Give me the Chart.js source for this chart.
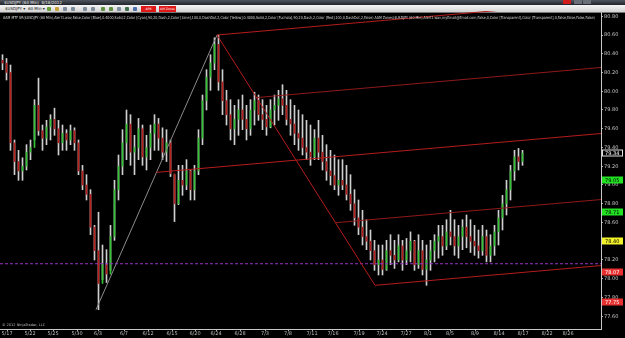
<!DOCTYPE html>
<html>
<head>
<meta charset="utf-8">
<script src="https://cdn.jsdelivr.net/npm/chart.js@4.4.0/dist/chart.umd.min.js"></script>
<style>
body { margin:0; background:#000; width:625px; height:338px; overflow:hidden; position:relative; font-family:'DejaVu Sans', sans-serif; }
#grafico { position:absolute; left:0; top:0; }
.barraTitulo { position:absolute; left:0; top:0; width:625px; height:5px; background:linear-gradient(#50555f,#202329); color:#e8e8e8; font-size:4px; line-height:5px; }
.barraTitulo span { position:absolute; left:4px; top:0; }
.botaoJanela { position:absolute; top:0; height:4px; width:8px; background:#6a6f78; }
.barraFerramentas { position:absolute; left:0; top:5px; width:625px; height:8px; background:linear-gradient(#f6f6f6,#d2d2d2); border-bottom:1px solid #777; box-sizing:border-box; font-size:4px; line-height:7px; color:#222; }
.item { position:absolute; top:0; }
.icone { position:absolute; top:2px; width:4px; height:4px; background:#7d8d9d; border-radius:1px; }
.botaoVermelho { position:absolute; top:1px; height:6px; background:#e01818; color:#fff; font-size:3px; line-height:6px; text-align:center; }
#linhaIndicador { position:absolute; left:3px; top:15px; font-size:4px; color:#d8d8d8; white-space:nowrap; transform-origin:0 0; }
#copyright { position:absolute; left:2px; top:323px; font-size:3.5px; color:#bbb; white-space:nowrap; }
</style>
</head>
<body>
<div class="barraTitulo"><span>$USDJPY (60 Min)&nbsp;&nbsp;8/18/2012</span>
  <div class="botaoJanela" style="left:574px"></div>
  <div class="botaoJanela" style="left:583px"></div>
  <div class="botaoJanela" style="left:563px;background:#d21c1c"></div>
</div>
<div class="barraFerramentas">
  <span class="item" style="left:5px">$USDJPY ▾</span>
  <span class="item" style="left:28px">60 Min ▾</span>
  <div class="icone" style="left:47px;background:#6a9c3a"></div>
  <div class="icone" style="left:55px;background:#c9a23a"></div>
  <div class="icone" style="left:63px"></div>
  <div class="icone" style="left:71px"></div>
  <div class="icone" style="left:83px"></div>
  <div class="icone" style="left:91px"></div>
  <div class="icone" style="left:101px;background:#5f8f3f"></div>
  <div class="icone" style="left:109px;background:#5f8f3f"></div>
  <div class="icone" style="left:117px"></div>
  <div class="icone" style="left:125px;background:#3f6f4f"></div>
  <div class="icone" style="left:133px;background:#4f6faf"></div>
  <div class="botaoVermelho" style="left:141px;width:15px">APB</div>
  <div class="botaoVermelho" style="left:159px;width:17px">AM Zones</div>
</div>
<canvas id="grafico" width="625" height="338"></canvas>
<div id="linhaIndicador">AAM MTF SR($USDJPY (60 Min),Alert1.wav,False,Color [Blue],0.4000,Solid,2,Color [Cyan],90,20,Dash,2,Color [Lime],100,0,DashDot,2,Color [Yellow],0.4000,Solid,2,Color [Fuchsia],90,20,Dash,2,Color [Red],100,0,DashDot,2,False) AAM Zones($USDJPY (60 Min),Alert1.wav,myEmail@Email.com,False,0,Color [Transparent],Color [Transparent],0,False,False,False,False)</div>
<div id="copyright">© 2012 NinjaTrader, LLC</div>

<script>
// dias de negociacao (1 unidade = 1 dia) onde ficam as datas do eixo
const datas = ['5/17','5/22','5/25','5/30','6/3','6/7','6/12','6/15','6/20','6/24','6/28','7/3','7/8','7/11','7/16','7/19','7/24','7/27','8/1','8/5','8/9','8/14','8/17','8/22','8/26'];
const posicaoDatas = [0.875, 3.75, 6.625, 9.625, 12.25, 15.5, 18.5, 21.5, 24.375, 27, 30, 33.125, 36, 39, 41.625, 44.875, 47.75, 50.75, 53.5, 56.25, 59.375, 62.375, 65.375, 68.375, 71];

const ticksPreco = [77.6, 77.8, 78.0, 78.2, 78.4, 78.6, 78.8, 79.0, 79.2, 79.4, 79.6, 79.8, 80.0, 80.2, 80.4, 80.6, 80.8];

// barras de meio dia (USDJPY 60 min agrupado)
const maximas = [
  80.39, 80.35, 80.28, 79.48, 79.37, 79.29, 79.43, 79.48, 79.91, 80.14,
  79.64, 79.69, 79.75, 79.82, 79.69, 79.64, 79.59, 79.64, 79.61, 79.48,
  79.21, 79.11, 78.95, 78.57, 78.71, 78.36, 78.31, 78.57, 79.05, 79.32,
  79.59, 79.80, 79.75, 79.53, 79.71, 79.64, 79.53, 79.64, 79.75, 79.71,
  79.61, 79.59, 79.48, 79.11, 79.21, 79.21, 79.27, 79.16, 79.21, 79.59,
  79.96, 80.23, 80.39, 80.57, 80.60, 80.23, 80.01, 79.91, 79.85, 79.91,
  79.96, 79.85, 79.91, 79.99, 79.96, 79.91, 79.85, 79.91, 79.96, 80.01,
  80.07, 80.01, 79.91, 79.85, 79.80, 79.75, 79.69, 79.64, 79.59, 79.69,
  79.53, 79.43, 79.37, 79.32, 79.27, 79.27, 79.21, 79.11, 78.95, 78.84,
  78.73, 78.63, 78.52, 78.41, 78.36, 78.36, 78.41, 78.47, 78.41, 78.47,
  78.41, 78.43, 78.50, 78.41, 78.47, 78.41, 78.36, 78.41, 78.47, 78.57,
  78.57, 78.63, 78.73, 78.63, 78.57, 78.63, 78.68, 78.63, 78.57, 78.52,
  78.57, 78.52, 78.47, 78.57, 78.73, 78.89, 79.05, 79.21, 79.37, 79.39,
  79.37
];
const minimas = [
  80.23, 80.12, 79.37, 79.11, 79.05, 79.05, 79.16, 79.27, 79.48, 79.53,
  79.37, 79.43, 79.48, 79.53, 79.32, 79.37, 79.37, 79.43, 79.37, 79.11,
  78.95, 78.84, 78.47, 78.20, 77.67, 77.99, 77.96, 78.09, 78.41, 78.84,
  79.11, 79.27, 79.21, 79.11, 79.27, 79.21, 79.16, 79.27, 79.37, 79.37,
  79.27, 79.25, 79.09, 78.61, 78.79, 78.89, 78.95, 78.84, 78.84, 79.11,
  79.43, 79.80, 80.01, 80.23, 80.01, 79.75, 79.64, 79.48, 79.43, 79.53,
  79.59, 79.48, 79.53, 79.64, 79.69, 79.59, 79.53, 79.61, 79.64, 79.69,
  79.75, 79.64, 79.53, 79.43, 79.37, 79.32, 79.27, 79.21, 79.27, 79.27,
  79.16, 79.05, 79.00, 78.95, 78.89, 78.95, 78.84, 78.73, 78.57, 78.47,
  78.36, 78.31, 78.20, 78.09, 78.04, 78.04, 78.09, 78.15, 78.11, 78.18,
  78.09, 78.15, 78.18, 78.09, 78.11, 78.04, 77.93, 78.09, 78.18, 78.22,
  78.25, 78.31, 78.36, 78.25, 78.22, 78.31, 78.33, 78.28, 78.25, 78.22,
  78.25, 78.18, 78.18, 78.25, 78.36, 78.52, 78.68, 78.84, 79.05, 79.16,
  79.21
];
const fechamentos = [
  80.30, 80.20, 79.45, 79.25, 79.15, 79.20, 79.35, 79.40, 79.85, 79.58,
  79.50, 79.62, 79.70, 79.60, 79.45, 79.55, 79.48, 79.58, 79.45, 79.15,
  79.00, 78.90, 78.55, 78.30, 77.95, 78.15, 78.05, 78.45, 78.95, 79.20,
  79.45, 79.65, 79.35, 79.40, 79.60, 79.30, 79.40, 79.55, 79.65, 79.50,
  79.35, 79.45, 79.12, 78.80, 79.05, 79.00, 79.15, 78.95, 79.15, 79.50,
  79.90, 80.15, 80.30, 80.50, 80.10, 79.90, 79.75, 79.60, 79.70, 79.80,
  79.70, 79.60, 79.80, 79.90, 79.75, 79.70, 79.62, 79.80, 79.85, 79.92,
  79.85, 79.70, 79.65, 79.55, 79.50, 79.40, 79.35, 79.30, 79.50, 79.35,
  79.25, 79.15, 79.10, 79.00, 79.05, 79.00, 78.90, 78.80, 78.65, 78.55,
  78.45, 78.40, 78.30, 78.15, 78.20, 78.10, 78.30, 78.25, 78.20, 78.35,
  78.20, 78.30, 78.40, 78.15, 78.30, 78.10, 78.20, 78.30, 78.40, 78.45,
  78.35, 78.50, 78.45, 78.35, 78.45, 78.55, 78.45, 78.40, 78.35, 78.30,
  78.45, 78.25, 78.35, 78.50, 78.65, 78.80, 78.95, 79.15, 79.30, 79.25,
  79.34
];
const abertura0 = 80.33;

// pitchfork (Schiff): pivos A (fundo), B (topo), C (fundo)
const pivoX = [12.0, 27.125, 46.875];
const pivoPreco = [77.67, 80.60, 77.93];

const linhaRoxa = 78.16;
const xFim = 75.125;

// niveis marcados no eixo de preco
const niveisValor = [79.34, 79.05, 78.71, 78.40, 78.07, 77.75];
const niveisCor = ['#000000', '#22e022', '#22e022', '#f2f22a', '#e83030', '#e83030'];
const niveisTexto = ['#ffffff', '#000000', '#000000', '#000000', '#ffffff', '#ffffff'];

function pontoMedio(p, q) {
  return { x: (p.x + q.x) / 2, y: (p.y + q.y) / 2 };
}

const A = { x: pivoX[0], y: pivoPreco[0] };
const B = { x: pivoX[1], y: pivoPreco[1] };
const C = { x: pivoX[2], y: pivoPreco[2] };
const medioAB = pontoMedio(A, B);
const medioBC = pontoMedio(B, C);
const inclinacao = (medioBC.y - medioAB.y) / (medioBC.x - medioAB.x);

function paralela(p) {
  return [{ x: p.x, y: p.y }, { x: xFim, y: p.y + inclinacao * (xFim - p.x) }];
}

const xBarra = maximas.map((v, i) => i * 0.5 + 0.3125);
const pavios = maximas.map((v, i) => ({ x: xBarra[i], y: [minimas[i], v] }));
const corpos = fechamentos.map((v, i) => {
  const abre = i === 0 ? abertura0 : fechamentos[i - 1];
  return { x: xBarra[i], y: [abre, v] };
});
const coresCorpo = fechamentos.map((v, i) => {
  const abre = i === 0 ? abertura0 : fechamentos[i - 1];
  return v >= abre ? '#35c235' : '#b82020';
});

const marcadores = {
  id: 'marcadores',
  afterDraw(chart) {
    const ctx = chart.ctx;
    const escala = chart.scales.y;
    const x0 = chart.chartArea.right + 1;
    ctx.save();
    ctx.font = '5px "DejaVu Sans"';
    ctx.textBaseline = 'middle';
    for (let i = 0; i < niveisValor.length; i++) {
      const y = Math.round(escala.getPixelForValue(niveisValor[i]));
      ctx.fillStyle = niveisCor[i];
      ctx.fillRect(x0, y - 3.5, 21, 7);
      if (i === 0) {
        ctx.strokeStyle = '#e0e0e0';
        ctx.lineWidth = 1;
        ctx.strokeRect(x0 + 0.5, y - 3, 20, 6);
      }
      ctx.fillStyle = niveisTexto[i];
      ctx.fillText(niveisValor[i].toFixed(2), x0 + 3, y + 0.5);
    }
    ctx.restore();
  }
};

const ctxGrafico = document.getElementById('grafico');

new Chart(ctxGrafico, {
  type: 'bar',
  data: {
    datasets: [
      {
        label: 'Pavios',
        data: pavios,
        backgroundColor: '#cfcfcf',
        barThickness: 1,
        grouped: false,
        borderWidth: 0,
        order: 4
      },
      {
        label: 'Corpos',
        data: corpos,
        backgroundColor: coresCorpo,
        barThickness: 1,
        grouped: false,
        borderWidth: 0,
        order: 3
      },
      {
        type: 'line',
        label: 'AB',
        data: [A, B],
        borderColor: '#8c8c8c',
        borderWidth: 1,
        pointRadius: 0,
        order: 2
      },
      {
        type: 'line',
        label: 'BC',
        data: [B, C],
        borderColor: '#b51c1c',
        borderWidth: 1,
        pointRadius: 0,
        order: 1
      },
      {
        type: 'line',
        label: 'Mediana',
        data: paralela(medioAB),
        borderColor: '#b51c1c',
        borderWidth: 1,
        pointRadius: 0,
        order: 1
      },
      {
        type: 'line',
        label: 'Superior',
        data: paralela(B),
        borderColor: '#b51c1c',
        borderWidth: 1,
        pointRadius: 0,
        order: 1
      },
      {
        type: 'line',
        label: 'Inferior',
        data: paralela(C),
        borderColor: '#b51c1c',
        borderWidth: 1,
        pointRadius: 0,
        order: 1
      },
      {
        type: 'line',
        label: 'Quarto superior',
        data: paralela(pontoMedio(B, medioBC)),
        borderColor: '#8e1a1a',
        borderWidth: 1,
        pointRadius: 0,
        order: 1
      },
      {
        type: 'line',
        label: 'Quarto inferior',
        data: paralela(pontoMedio(C, medioBC)),
        borderColor: '#8e1a1a',
        borderWidth: 1,
        pointRadius: 0,
        order: 1
      },
      {
        type: 'line',
        label: 'Nivel',
        data: [{ x: 0, y: linhaRoxa }, { x: xFim, y: linhaRoxa }],
        borderColor: '#9a32c8',
        borderWidth: 1,
        borderDash: [3, 2],
        pointRadius: 0,
        order: 1
      }
    ]
  },
  options: {
    responsive: false,
    animation: false,
    events: [],
    layout: {
      padding: { top: 11, left: 0, right: 0, bottom: 0 }
    },
    plugins: {
      legend: { display: false },
      tooltip: { enabled: false }
    },
    scales: {
      x: {
        type: 'linear',
        min: 0,
        max: xFim,
        offset: false,
        grid: { display: true, drawOnChartArea: false, drawTicks: true, tickLength: 2, color: '#b0b0b0', offset: false },
        border: { display: true, color: '#c8c8c8' },
        ticks: {
          color: '#bdbdbd',
          font: { size: 5, family: 'DejaVu Sans' },
          padding: 0,
          autoSkip: false,
          maxRotation: 0,
          callback: (v, i) => datas[i]
        },
        afterBuildTicks: (escala) => {
          escala.ticks = posicaoDatas.map(v => ({ value: v }));
        },
        afterFit: (escala) => {
          escala.height = 9;
        }
      },
      y: {
        position: 'right',
        min: 77.464,
        max: 80.856,
        grid: { display: true, drawOnChartArea: false, drawTicks: true, tickLength: 2, color: '#b0b0b0' },
        border: { display: true, color: '#c8c8c8' },
        ticks: {
          color: '#c8c8c8',
          font: { size: 5, family: 'DejaVu Sans' },
          padding: 1,
          callback: (v) => v.toFixed(2)
        },
        afterBuildTicks: (escala) => {
          escala.ticks = ticksPreco.map(v => ({ value: v }));
        },
        afterFit: (escala) => {
          escala.width = 24;
        }
      }
    }
  },
  plugins: [marcadores]
});

const linha = document.getElementById('linhaIndicador');
linha.style.transform = 'scaleX(' + (592 / linha.scrollWidth) + ')';
</script>
</body>
</html>
